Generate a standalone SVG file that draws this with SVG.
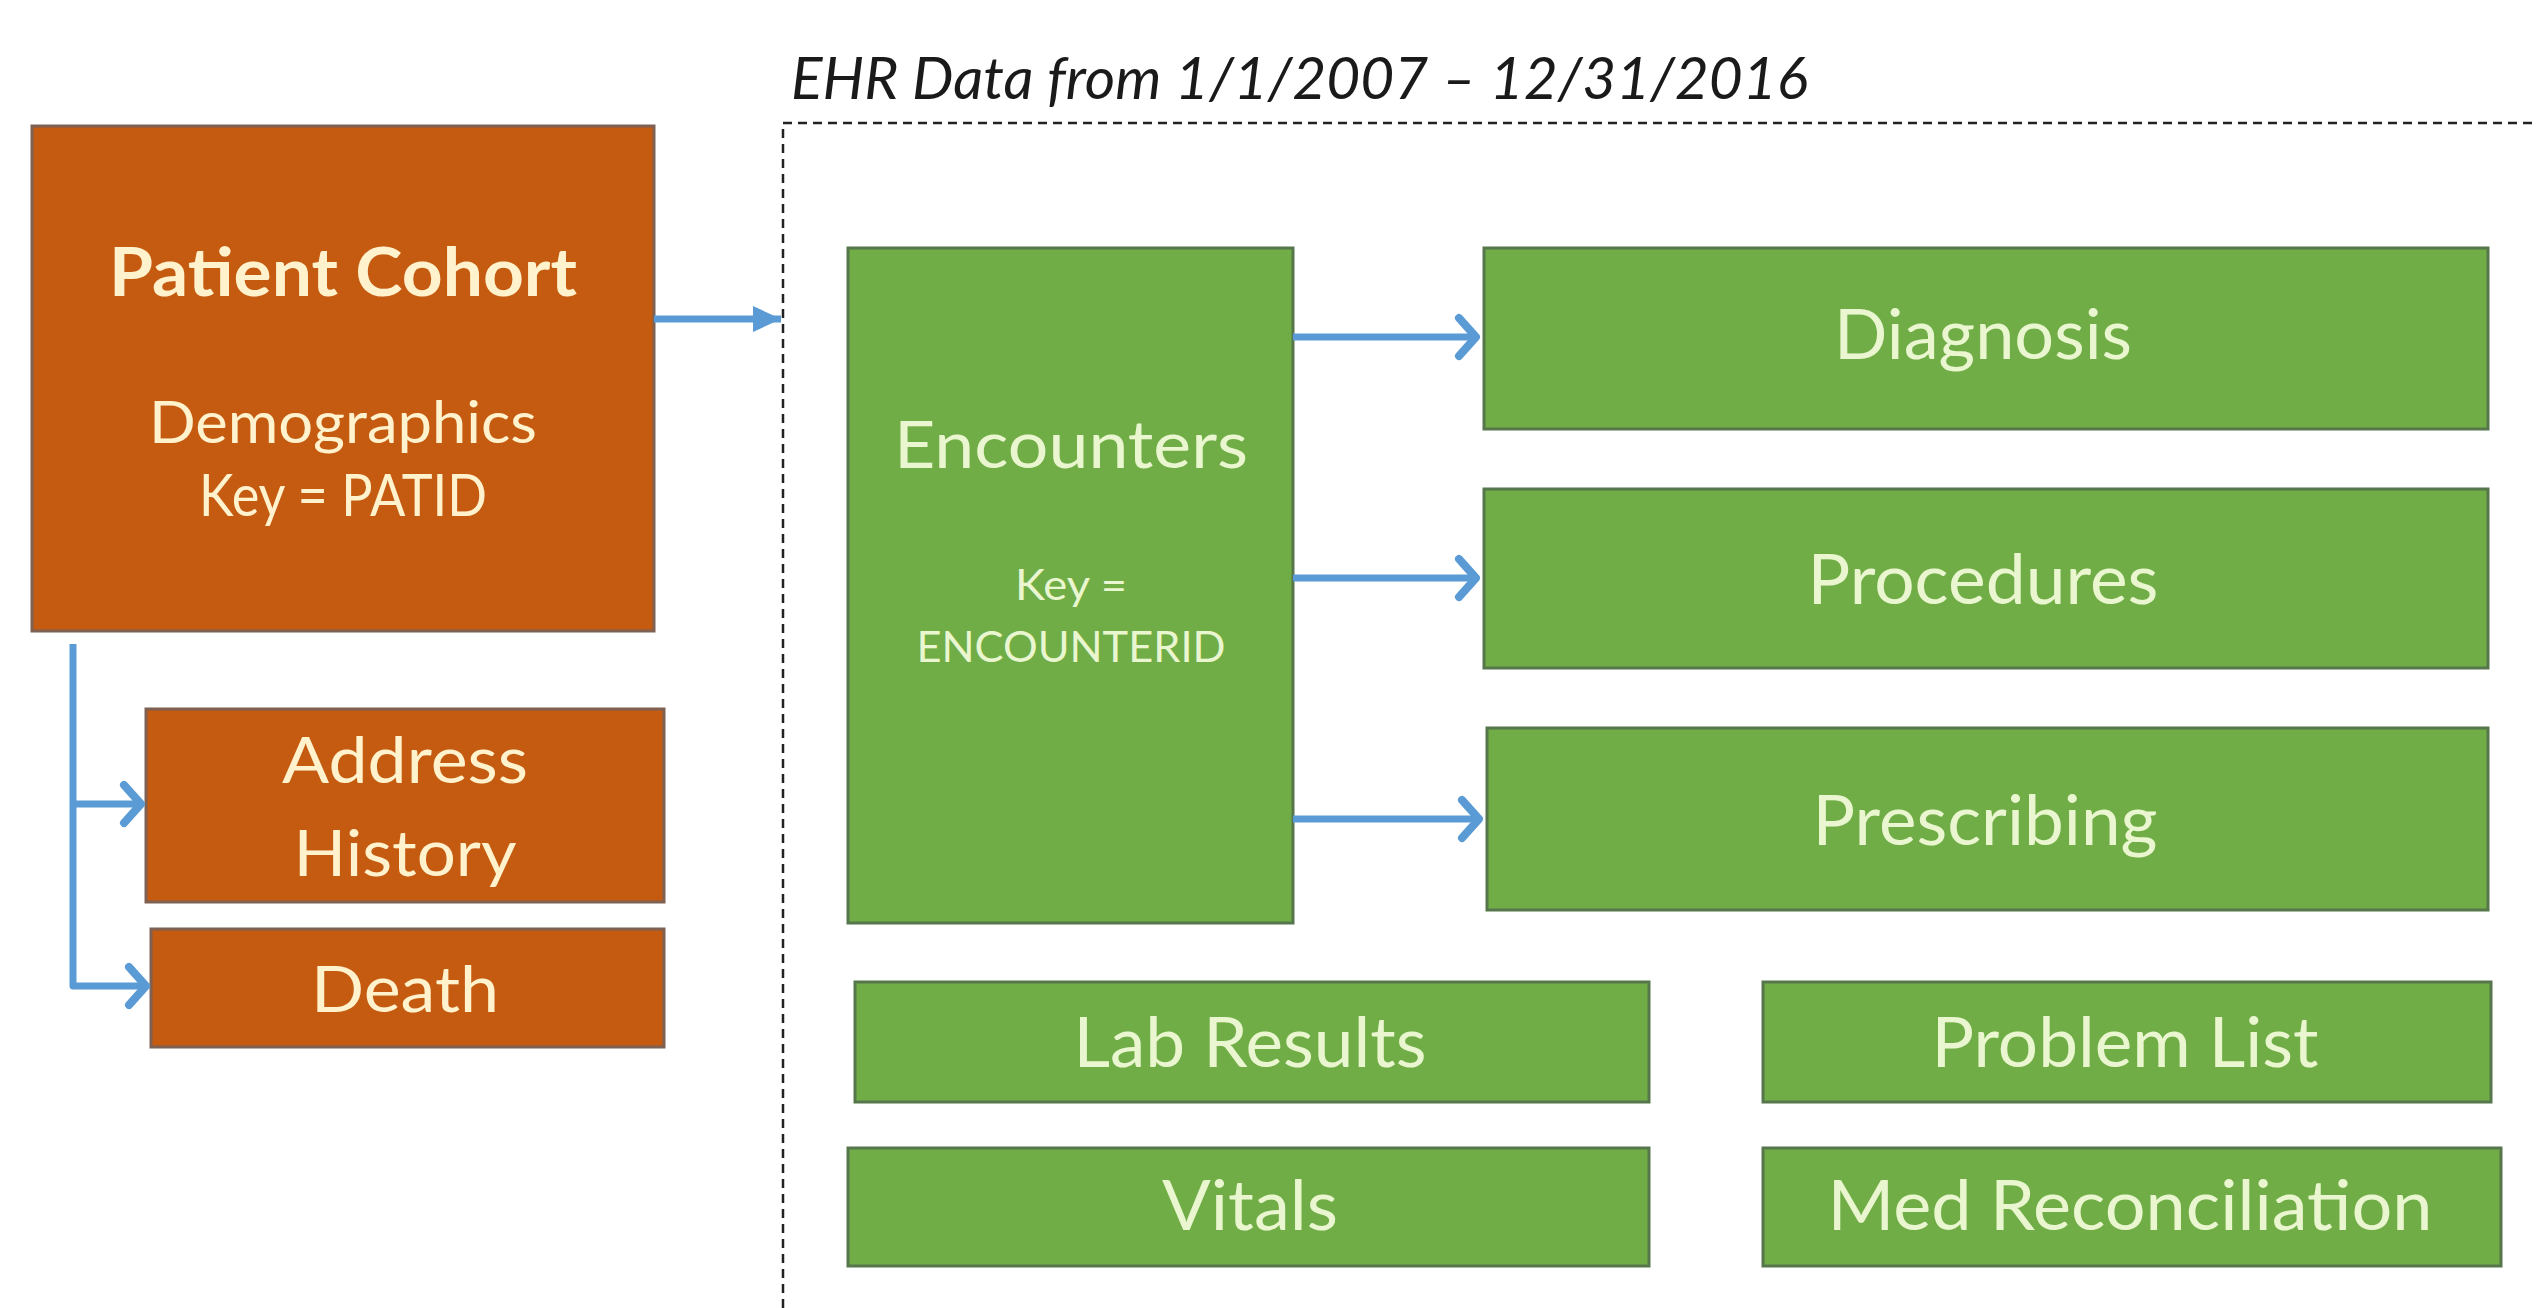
<svg xmlns="http://www.w3.org/2000/svg" width="2538" height="1308" viewBox="0 0 2538 1308">
  <style>
    .orange { fill: #C55A11; stroke: #7E6152; stroke-width: 3; }
    .green { fill: #70AD47; stroke: #56774B; stroke-width: 3; }
    .lbl { font-family: Lato, "Liberation Sans", sans-serif; text-anchor: middle; }
    .olbl { fill: #FFF2CC; }
    .glbl { fill: #EAF6CF; }
    .wire { fill: none; stroke: #5B9BD5; stroke-width: 7; stroke-linejoin: round; }
    .title { font-family: Lato, "Liberation Sans", sans-serif; font-style: italic; fill: #1a1a1a; }
  </style>
  <defs>
    <marker id="chev" markerUnits="userSpaceOnUse" markerWidth="40" markerHeight="50" refX="22" refY="25" orient="auto" overflow="visible">
      <path d="M5,6 L22,25 L5,44" fill="none" stroke="#5B9BD5" stroke-width="8" stroke-linecap="round" stroke-linejoin="round"/>
    </marker>
    <marker id="tri" markerUnits="userSpaceOnUse" markerWidth="30" markerHeight="28" refX="28" refY="14" orient="auto" overflow="visible">
      <path d="M0,1 L28,14 L0,27 z" fill="#5B9BD5"/>
    </marker>
  </defs>

  <rect width="2538" height="1308" fill="#ffffff"/>

  <!-- EHR data window -->
  <g id="ehr-window">
    <text class="title" x="791" y="99" font-size="58" textLength="1017" lengthAdjust="spacingAndGlyphs">EHR Data from 1/1/2007 – 12/31/2016</text>
    <path d="M783,1308 L783,123 L2538,123" fill="none" stroke="#222" stroke-width="2.5" stroke-dasharray="9 6"/>
  </g>

  <!-- Patient side -->
  <g id="patient-cohort">
    <rect class="orange" x="32" y="126" width="622" height="505"/>
    <text class="lbl olbl" x="343" y="296" font-size="66" font-weight="bold" textLength="468" lengthAdjust="spacingAndGlyphs">Patient Cohort</text>
    <text class="lbl olbl" x="343" y="443" font-size="58" textLength="388" lengthAdjust="spacingAndGlyphs">Demographics</text>
    <text class="lbl olbl" x="343" y="516" font-size="58" textLength="288" lengthAdjust="spacingAndGlyphs">Key = PATID</text>
  </g>
  <g id="address-history">
    <rect class="orange" x="146" y="709" width="518" height="193"/>
    <text class="lbl olbl" x="405" y="783" font-size="64" textLength="246" lengthAdjust="spacingAndGlyphs">Address</text>
    <text class="lbl olbl" x="405" y="876" font-size="64" textLength="223" lengthAdjust="spacingAndGlyphs">History</text>
  </g>
  <g id="death">
    <rect class="orange" x="151" y="929" width="513" height="118"/>
    <text class="lbl olbl" x="405" y="1012" font-size="64" textLength="188" lengthAdjust="spacingAndGlyphs">Death</text>
  </g>

  <!-- Encounter-keyed tables -->
  <g id="encounters">
    <rect class="green" x="848" y="248" width="445" height="675"/>
    <text class="lbl glbl" x="1071" y="468" font-size="66" textLength="354" lengthAdjust="spacingAndGlyphs">Encounters</text>
    <text class="lbl glbl" x="1071" y="600" font-size="42" textLength="112" lengthAdjust="spacingAndGlyphs">Key =</text>
    <text class="lbl glbl" x="1071" y="662" font-size="42" textLength="309" lengthAdjust="spacingAndGlyphs">ENCOUNTERID</text>
  </g>
  <g id="diagnosis">
    <rect class="green" x="1484" y="248" width="1004" height="181"/>
    <text class="lbl glbl" x="1983" y="359" font-size="70" textLength="298" lengthAdjust="spacingAndGlyphs">Diagnosis</text>
  </g>
  <g id="procedures">
    <rect class="green" x="1484" y="489" width="1004" height="179"/>
    <text class="lbl glbl" x="1983" y="604" font-size="70" textLength="351" lengthAdjust="spacingAndGlyphs">Procedures</text>
  </g>
  <g id="prescribing">
    <rect class="green" x="1487" y="728" width="1001" height="182"/>
    <text class="lbl glbl" x="1985" y="845" font-size="70" textLength="345" lengthAdjust="spacingAndGlyphs">Prescribing</text>
  </g>
  <g id="lab-results">
    <rect class="green" x="855" y="982" width="794" height="120"/>
    <text class="lbl glbl" x="1250" y="1067" font-size="70" textLength="353" lengthAdjust="spacingAndGlyphs">Lab Results</text>
  </g>
  <g id="problem-list">
    <rect class="green" x="1763" y="982" width="728" height="120"/>
    <text class="lbl glbl" x="2125" y="1067" font-size="70" textLength="387" lengthAdjust="spacingAndGlyphs">Problem List</text>
  </g>
  <g id="vitals">
    <rect class="green" x="848" y="1148" width="801" height="118"/>
    <text class="lbl glbl" x="1250" y="1230" font-size="70" textLength="176" lengthAdjust="spacingAndGlyphs">Vitals</text>
  </g>
  <g id="med-reconciliation">
    <rect class="green" x="1763" y="1148" width="738" height="118"/>
    <text class="lbl glbl" x="2130" y="1230" font-size="70" textLength="605" lengthAdjust="spacingAndGlyphs">Med Reconciliation</text>
  </g>

  <!-- Connectors -->
  <g id="connectors">
    <path class="wire" d="M654,319 L781,319" marker-end="url(#tri)"/>
    <path class="wire" d="M73,644 L73,986 L146,986" marker-end="url(#chev)"/>
    <path class="wire" d="M73,804 L141,804" marker-end="url(#chev)"/>
    <path class="wire" d="M1293,337 L1476,337" marker-end="url(#chev)"/>
    <path class="wire" d="M1293,578 L1476,578" marker-end="url(#chev)"/>
    <path class="wire" d="M1293,819 L1479,819" marker-end="url(#chev)"/>
  </g>
</svg>
